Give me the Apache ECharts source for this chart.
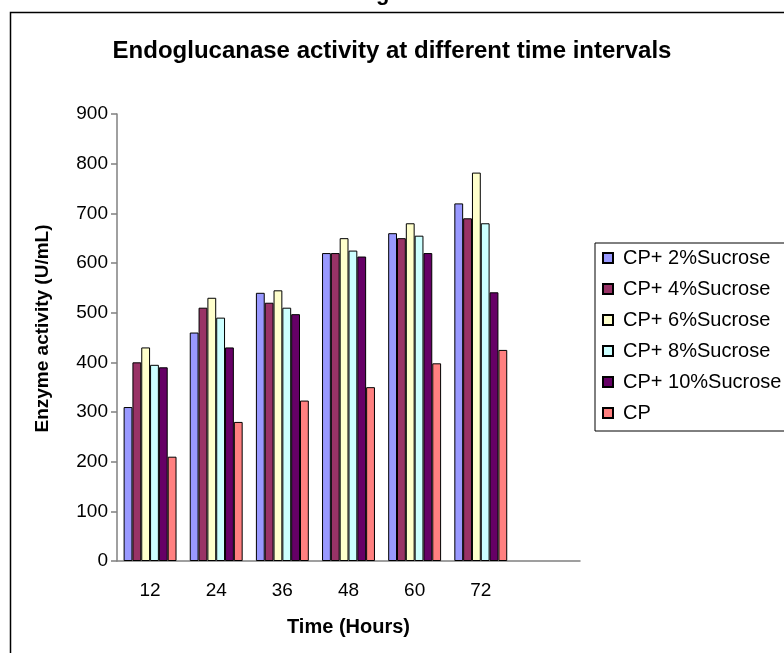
<!DOCTYPE html>
<html>
<head>
<meta charset="utf-8">
<script src="https://cdn.jsdelivr.net/npm/echarts@6/dist/echarts.min.js"></script>
<style>
  html, body { margin: 0; padding: 0; background: #fff; }
  #chart { width: 784px; height: 653px; }
</style>
</head>
<body>
<div id="chart"></div>
<script>
// time points (last slot is empty in the original)
const hours = ["12", "24", "36", "48", "60", "72", ""];

const seriesNames = [
  "CP+ 2%Sucrose",
  "CP+ 4%Sucrose",
  "CP+ 6%Sucrose",
  "CP+ 8%Sucrose",
  "CP+ 10%Sucrose",
  "CP",
];

const sucrose2 = [310, 460, 540, 620, 660, 720];
const sucrose4 = [400, 510, 520, 620, 650, 690];
const sucrose6 = [430, 530, 545, 650, 680, 782];
const sucrose8 = [395, 490, 510, 625, 655, 680];
const sucrose10 = [390, 430, 497, 613, 620, 541];
const cpOnly = [210, 280, 323, 350, 398, 425];

const yTicks = [0, 100, 200, 300, 400, 500, 600, 700, 800, 900];

const colors = ["#9999FF", "#993366", "#FFFFCC", "#CCFFFF", "#660066", "#FF8080"];
const values = [sucrose2, sucrose4, sucrose6, sucrose8, sucrose10, cpOnly];

const font = "Liberation Sans, Arial, sans-serif";
const chart = echarts.init(document.getElementById("chart"), null, { renderer: "canvas" });

chart.setOption({
  animation: false,
  color: colors,
  textStyle: { fontFamily: font, color: "#000" },
  title: {
    text: "Endoglucanase activity at different time intervals",
    left: "center",
    top: 34,
    textStyle: { fontFamily: font, fontSize: 24, fontWeight: "bold", color: "#000" },
  },
  graphic: [
    {
      type: "rect",
      left: 8,
      top: 10,
      shape: { width: 820, height: 700 },
      style: { fill: "none", stroke: "#000", lineWidth: 1.5 },
      silent: true,
    },
    {
      type: "text",
      left: 376,
      top: -17,
      style: { text: "g", font: "bold 22px Liberation Sans", fill: "#000" },
      silent: true,
    },
  ],
  legend: {
    orient: "vertical",
    left: 595,
    top: 243,
    padding: [5, 40, 8, 7],
    itemWidth: 10,
    itemHeight: 10,
    itemGap: 11,
    icon: "rect",
    borderColor: "#000",
    borderWidth: 1,
    textStyle: { fontFamily: font, fontSize: 20, color: "#000", padding: [0, 0, 0, 5] },
    data: seriesNames,
  },
  grid: { left: 117, right: 204, top: 114, bottom: 92, containLabel: false },
  xAxis: {
    type: "category",
    data: hours,
    name: "Time (Hours)",
    nameLocation: "middle",
    nameGap: 56,
    nameTextStyle: { fontFamily: font, fontSize: 20, fontWeight: "bold", color: "#000" },
    axisLine: { lineStyle: { color: "#808080", width: 1.5 } },
    axisTick: { length: 6, lineStyle: { color: "#808080", width: 1.5 } },
    axisLabel: { fontFamily: font, fontSize: 19, color: "#000", margin: 20 },
  },
  yAxis: {
    type: "value",
    min: yTicks[0],
    max: yTicks[yTicks.length - 1],
    interval: 100,
    name: "Enzyme activity (U/mL)",
    nameLocation: "middle",
    nameGap: 65,
    nameTextStyle: {
      fontFamily: font,
      fontSize: 19,
      fontWeight: "bold",
      color: "#000",
      padding: [0, 0, 0, 18],
    },
    axisLine: { show: true, lineStyle: { color: "#808080", width: 1.5 } },
    axisTick: { show: true, length: 6, lineStyle: { color: "#808080", width: 1.5 } },
    axisLabel: { fontFamily: font, fontSize: 19, color: "#000", margin: 9 },
    splitLine: { show: false },
  },
  series: seriesNames.map((name, i) => ({
    name,
    type: "bar",
    data: values[i],
    barGap: "0%",
    barCategoryGap: "20%",
    itemStyle: { color: colors[i], borderColor: "#000", borderWidth: 1 },
  })),
});
</script>
</body>
</html>
